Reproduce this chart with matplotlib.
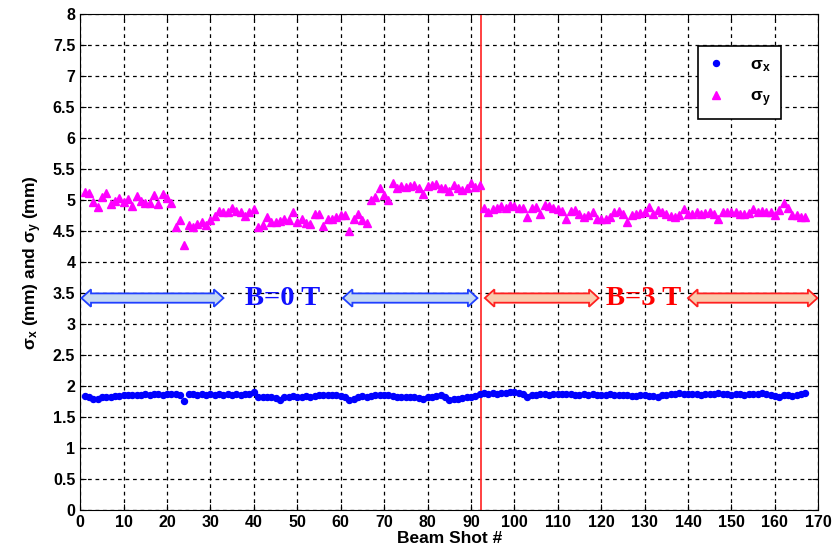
import matplotlib
matplotlib.use('Agg')
import matplotlib.pyplot as plt
from matplotlib.patches import Polygon
import numpy as np

plt.rcParams['font.family'] = ['Liberation Sans', 'DejaVu Sans']
plt.rcParams['mathtext.default'] = 'regular'

# beam shot number
shots = np.arange(1, 168)

sigma_x = [
    1.84, 1.82, 1.80, 1.80, 1.82, 1.82, 1.83, 1.84, 1.84, 1.85,
    1.85, 1.86, 1.86, 1.86, 1.87, 1.86, 1.87, 1.87, 1.86, 1.87,
    1.88, 1.87, 1.86, 1.76, 1.87, 1.87, 1.86, 1.87, 1.86, 1.87,
    1.86, 1.87, 1.86, 1.87, 1.86, 1.87, 1.86, 1.87, 1.87, 1.91,
    1.83, 1.82, 1.83, 1.82, 1.81, 1.77, 1.82, 1.83, 1.84, 1.83,
    1.83, 1.84, 1.83, 1.84, 1.85, 1.85, 1.86, 1.85, 1.85, 1.84,
    1.83, 1.77, 1.80, 1.83, 1.84, 1.83, 1.84, 1.85, 1.85, 1.86,
    1.85, 1.84, 1.83, 1.82, 1.83, 1.82, 1.82, 1.81, 1.80, 1.82,
    1.83, 1.84, 1.86, 1.83, 1.78, 1.79, 1.80, 1.81, 1.82, 1.83,
    1.84, 1.88, 1.89, 1.88, 1.89, 1.88, 1.89, 1.89, 1.90, 1.90,
    1.89, 1.88, 1.83, 1.85, 1.86, 1.87, 1.87, 1.86, 1.87, 1.88,
    1.88, 1.87, 1.87, 1.86, 1.86, 1.87, 1.86, 1.87, 1.86, 1.86,
    1.86, 1.87, 1.86, 1.85, 1.85, 1.86, 1.84, 1.84, 1.85, 1.85,
    1.84, 1.84, 1.83, 1.85, 1.86, 1.87, 1.88, 1.89, 1.88, 1.87,
    1.87, 1.88, 1.86, 1.87, 1.88, 1.87, 1.89, 1.88, 1.87, 1.86,
    1.87, 1.87, 1.86, 1.87, 1.88, 1.88, 1.89, 1.87, 1.86, 1.84,
    1.82, 1.85, 1.86, 1.84, 1.85, 1.87, 1.89,
]

sigma_y = [
    5.13, 5.12, 4.97, 4.89, 5.05, 5.11, 4.94, 4.99, 5.03, 4.97,
    5.02, 4.91, 5.07, 4.99, 4.95, 4.96, 5.08, 4.94, 5.09, 5.03,
    4.95, 4.57, 4.68, 4.28, 4.59, 4.57, 4.62, 4.64, 4.59, 4.68,
    4.75, 4.83, 4.81, 4.81, 4.88, 4.83, 4.81, 4.75, 4.81, 4.85,
    4.57, 4.59, 4.72, 4.64, 4.64, 4.67, 4.70, 4.68, 4.81, 4.65,
    4.70, 4.63, 4.61, 4.78, 4.77, 4.58, 4.69, 4.69, 4.73, 4.76,
    4.76, 4.50, 4.70, 4.77, 4.68, 4.63, 5.00, 5.05, 5.20, 5.08,
    5.00, 5.27, 5.20, 5.22, 5.21, 5.22, 5.24, 5.20, 5.10, 5.22,
    5.24, 5.26, 5.20, 5.19, 5.15, 5.25, 5.20, 5.17, 5.20, 5.28,
    5.21, 5.25, 4.88, 4.81, 4.85, 4.88, 4.90, 4.88, 4.92, 4.90,
    4.88, 4.88, 4.73, 4.88, 4.89, 4.77, 4.92, 4.90, 4.88, 4.86,
    4.83, 4.70, 4.83, 4.84, 4.78, 4.73, 4.76, 4.81, 4.70, 4.70,
    4.70, 4.73, 4.80, 4.83, 4.78, 4.65, 4.76, 4.77, 4.79, 4.81,
    4.89, 4.77, 4.84, 4.81, 4.78, 4.75, 4.73, 4.76, 4.85, 4.78,
    4.77, 4.81, 4.78, 4.79, 4.80, 4.78, 4.70, 4.81, 4.81, 4.81,
    4.80, 4.78, 4.78, 4.79, 4.85, 4.81, 4.83, 4.81, 4.80, 4.76,
    4.84, 4.96, 4.87, 4.76, 4.76, 4.73, 4.73,
]

field_switch = 92.4


def double_arrow(ax, x0, x1, y, fc, ec, shaft=0.075, head=0.14, hlen=2.2):
    # polygon of a block double arrow in data units
    pts = [(x0, y), (x0 + hlen, y + head), (x0 + hlen, y + shaft),
           (x1 - hlen, y + shaft), (x1 - hlen, y + head), (x1, y),
           (x1 - hlen, y - head), (x1 - hlen, y - shaft),
           (x0 + hlen, y - shaft), (x0 + hlen, y - head)]
    ax.add_patch(Polygon(pts, closed=True, fc=fc, ec=ec, lw=1.3, zorder=4))


fig = plt.figure(figsize=(8.35, 5.6), dpi=100)
ax = fig.add_axes([0.096, 0.089, 0.884, 0.886])

ax.plot(shots, sigma_x, linestyle='none', marker='o', ms=4.3, color='#0000ff',
        label=r'$\sigma_x$', zorder=3)
ax.plot(shots, sigma_y, linestyle='none', marker='^', ms=5.5, color='#ff00ff',
        label=r'$\sigma_y$', zorder=3)

ax.axvline(field_switch, color='#ff3333', lw=1.3, zorder=2)

# B-field annotations
double_arrow(ax, 0.3, 33.0, 3.42, '#c6d9f1', '#1f3fff')
double_arrow(ax, 60.5, 91.5, 3.42, '#c6d9f1', '#1f3fff')
ax.text(46.5, 3.42, 'B=0 T', color='#1010ff', fontsize=20.5, fontweight='bold',
        family=['Liberation Serif', 'DejaVu Serif'], ha='center', va='center', zorder=5)
double_arrow(ax, 93.2, 119.4, 3.42, '#f9cbad', '#ff2020')
double_arrow(ax, 140.0, 169.8, 3.42, '#f9cbad', '#ff2020')
ax.text(129.8, 3.42, 'B=3 T', color='#ff0000', fontsize=20.5, fontweight='bold',
        family=['Liberation Serif', 'DejaVu Serif'], ha='center', va='center', zorder=5)

ax.set_xlim(0, 170)
ax.set_ylim(0, 8)
ax.set_xticks(np.arange(0, 171, 10))
ax.set_yticks(np.arange(0, 8.01, 0.5))
ax.set_yticklabels([f'{v:g}' for v in np.arange(0, 8.01, 0.5)])
ax.grid(True, color='k', linestyle=(0, (3, 3)), lw=0.9)
ax.tick_params(direction='in', top=True, right=True, length=4, labelsize=11.5)
for lab in ax.get_xticklabels() + ax.get_yticklabels():
    lab.set_fontweight('bold')

ax.set_xlabel('Beam Shot #', fontweight='bold', fontsize=12.5, labelpad=1)
ax.set_ylabel(r'$\sigma_x$ (mm) and $\sigma_y$ (mm)', fontweight='bold', fontsize=12.5, labelpad=6)

leg = ax.legend(loc='upper right', bbox_to_anchor=(0.950, 0.935), borderaxespad=0,
                fancybox=False, edgecolor='k', framealpha=1, handletextpad=1.6,
                handlelength=0.8, borderpad=0.6, labelspacing=0.9,
                prop={'weight': 'bold', 'size': 12.5})
leg.get_frame().set_linewidth(1.2)

fig.savefig('out.png', dpi=100)
